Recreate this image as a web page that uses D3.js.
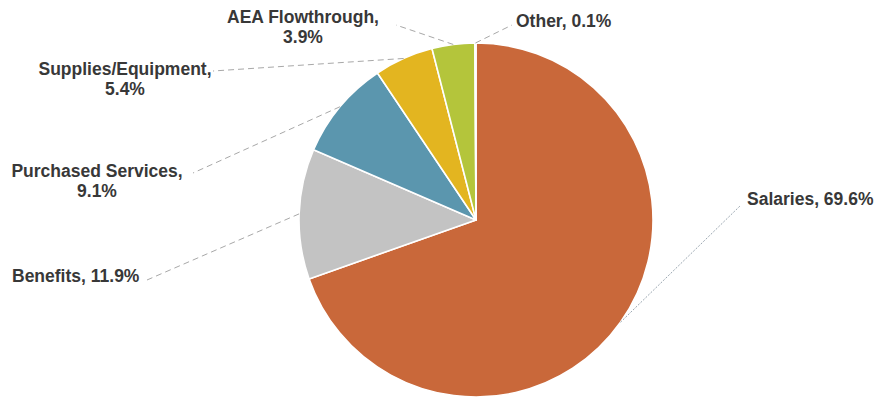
<!DOCTYPE html>
<html>
<head>
<meta charset="utf-8">
<script src="https://cdn.jsdelivr.net/npm/d3@7"></script>
<style>
  html, body { margin: 0; padding: 0; background: #ffffff; }
  svg { display: block; }
  text { font-family: "Liberation Sans", Arial, sans-serif; font-weight: bold; fill: #383838; }
</style>
</head>
<body>
<svg id="chart" width="876" height="405"></svg>
<script>
// ---- data ----
const categories = ["Salaries", "Benefits", "Purchased Services", "Supplies/Equipment", "AEA Flowthrough", "Other"];
const values = [69.6, 11.9, 9.1, 5.4, 3.9, 0.1];
const labelLines = [
  ["Salaries, 69.6%"],
  ["Benefits, 11.9%"],
  ["Purchased Services,", "9.1%"],
  ["Supplies/Equipment,", "5.4%"],
  ["AEA Flowthrough,", "3.9%"],
  ["Other, 0.1%"]
];
const colors = ["#c9683a", "#c3c3c3", "#5b96ae", "#e3b520", "#b4c53b", "#e0e0e0"];

// ---- layout ----
const W = 876, H = 405;
const cx = 476, cy = 220, R = 177;
// label anchor (x, first baseline, text-anchor) and leader endpoint near label
const labelLayout = [
  { x: 747, y: 205, anchor: "start",  lx: 740, ly: 206 },
  { x: 12,  y: 282, anchor: "start",  lx: 147, ly: 280 },
  { x: 97,  y: 177, anchor: "middle", lx: 193, ly: 173 },
  { x: 125, y: 75,  anchor: "middle", lx: 213, ly: 71 },
  { x: 303, y: 23,  anchor: "middle", lx: 396, ly: 25 },
  { x: 516, y: 27,  anchor: "start",  lx: 512, ly: 25 }
];

const svg = d3.select("#chart");
const data = categories.map((c, i) => ({ cat: c, value: values[i], i }));

const pie = d3.pie().value(d => d.value).sort(null);
const arcs = pie(data);
const arc = d3.arc().innerRadius(0).outerRadius(R);

const g = svg.append("g").attr("transform", `translate(${cx},${cy})`);

g.selectAll("path.slice")
  .data(arcs)
  .join("path")
  .attr("class", "slice")
  .attr("d", arc)
  .attr("fill", d => colors[d.data.i])
  .attr("stroke", "#ffffff")
  .attr("stroke-width", 1.6)
  .attr("stroke-linejoin", "round");

// leader lines
arcs.forEach((a, i) => {
  const mid = (a.startAngle + a.endAngle) / 2;
  const px = cx + R * Math.sin(mid);
  const py = cy - R * Math.cos(mid);
  const L = labelLayout[i];
  svg.append("line")
    .attr("x1", px).attr("y1", py)
    .attr("x2", L.lx).attr("y2", L.ly)
    .attr("stroke", i === 0 ? "#9aa6b0" : "#a8a8a8")
    .attr("stroke-width", 1)
    .attr("stroke-dasharray", i === 0 ? "2,1.5" : "6,4");
});

// labels
labelLines.forEach((lines, i) => {
  const L = labelLayout[i];
  const t = svg.append("text")
    .attr("x", L.x).attr("y", L.y)
    .attr("text-anchor", L.anchor)
    .style("font-size", "17.5px");
  lines.forEach((ln, k) => {
    t.append("tspan")
      .attr("x", L.x)
      .attr("dy", k === 0 ? 0 : 20)
      .text(ln);
  });
});
</script>
</body>
</html>
